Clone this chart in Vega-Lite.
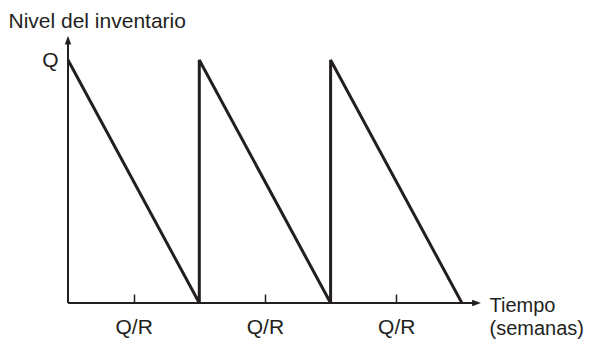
{
  "$schema": "https://vega.github.io/schema/vega-lite/v6.json",
  "width": 521,
  "height": 303,
  "autosize": "none",
  "padding": {"left": 68, "top": 0, "right": 0, "bottom": 37},
  "background": "white",
  "config": {
    "view": {"stroke": null},
    "font": "Liberation Sans",
    "axis": {"grid": false, "labelColor": "#231f20", "titleColor": "#231f20", "titleFontWeight": "normal"}
  },
  "datasets": {
    "inventario": [
      {"tiempo": 0, "nivel": 1},
      {"tiempo": 1, "nivel": 0},
      {"tiempo": 1, "nivel": 1},
      {"tiempo": 2, "nivel": 0},
      {"tiempo": 2, "nivel": 1},
      {"tiempo": 3, "nivel": 0}
    ],
    "uno": [{}]
  },
  "layer": [
    {
      "data": {"name": "inventario"},
      "mark": {"type": "line", "color": "#231f20", "strokeWidth": 3, "strokeJoin": "miter", "strokeCap": "butt"},
      "encoding": {
        "x": {
          "field": "tiempo",
          "type": "quantitative",
          "scale": {"domain": [0, 3.968], "nice": false, "zero": false},
          "axis": {
            "values": [0.5, 1.5, 2.5],
            "labelExpr": "'Q/R'",
            "domain": false,
            "tickSize": -9,
            "tickWidth": 1.5,
            "tickColor": "#231f20",
            "labelFontSize": 21,
            "labelPadding": 22,
            "title": ["Tiempo", "(semanas)"],
            "titleFontSize": 20,
            "titleAlign": "left",
            "titleAnchor": null,
            "titleBaseline": "alphabetic",
            "titleX": 421,
            "titleY": 8,
            "titleLineHeight": 23
          }
        },
        "y": {
          "field": "nivel",
          "type": "quantitative",
          "scale": {"domain": [0, 1.247], "nice": false, "zero": false},
          "axis": {
            "values": [1],
            "labelExpr": "'Q'",
            "domain": false,
            "ticks": false,
            "labelFontSize": 21,
            "labelPadding": 10,
            "labelBaseline": "middle",
            "title": "Nivel del inventario",
            "titleFontSize": 21,
            "titleAngle": 0,
            "titleAlign": "left",
            "titleAnchor": null,
            "titleBaseline": "alphabetic",
            "titleX": -60,
            "titleY": 27
          }
        },
        "order": {"value": null}
      }
    },
    {
      "data": {"name": "uno"},
      "mark": {"type": "rule", "color": "#231f20", "strokeWidth": 2},
      "encoding": {
        "x": {"datum": 0, "type": "quantitative"},
        "x2": {"datum": 3.1},
        "y": {"datum": 0, "type": "quantitative"}
      }
    },
    {
      "data": {"name": "uno"},
      "mark": {"type": "rule", "color": "#231f20", "strokeWidth": 2},
      "encoding": {
        "x": {"datum": 0, "type": "quantitative"},
        "y": {"datum": 0, "type": "quantitative"},
        "y2": {"datum": 1.07}
      }
    },
    {
      "data": {"name": "uno"},
      "mark": {"type": "point", "shape": "M0,0 L-2.2,-0.8 L-2.2,0.8 Z", "filled": true, "size": 64, "color": "#231f20", "opacity": 1},
      "encoding": {
        "x": {"datum": 3.145, "type": "quantitative"},
        "y": {"datum": 0, "type": "quantitative"}
      }
    },
    {
      "data": {"name": "uno"},
      "mark": {"type": "point", "shape": "M0,0 L-0.8,2.2 L0.8,2.2 Z", "filled": true, "size": 64, "color": "#231f20", "opacity": 1},
      "encoding": {
        "x": {"datum": 0, "type": "quantitative"},
        "y": {"datum": 1.1, "type": "quantitative"}
      }
    }
  ]
}
